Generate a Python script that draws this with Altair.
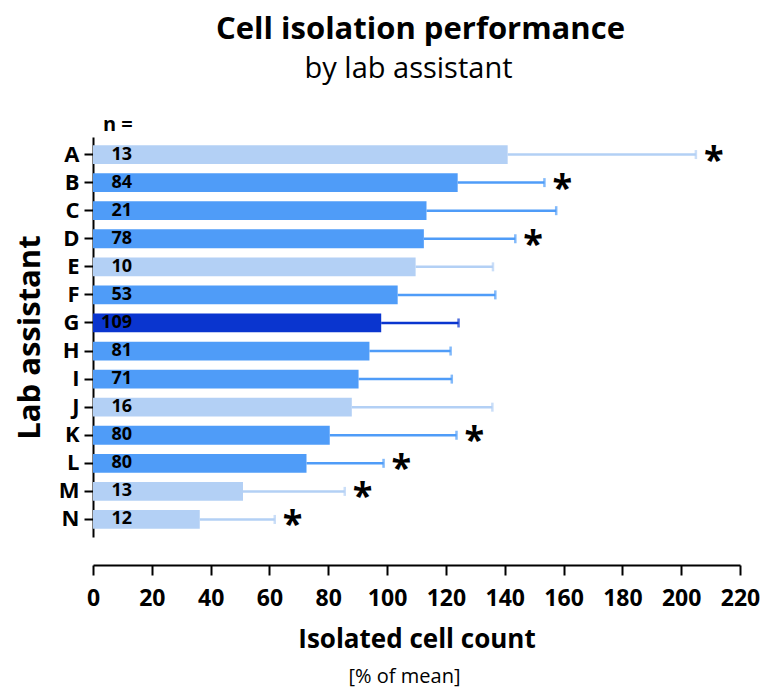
import altair as alt
import pandas as pd

assistants = list("ABCDEFGHIJKLMN")
means = [141, 124, 113.4, 112.5, 109.7, 103.6, 98, 94, 90.3, 88, 80.5, 72.6, 51, 36.3]
uppers = [205, 153.5, 157.5, 143.6, 136, 136.8, 124.3, 121.6, 122, 135.8, 123.6, 98.8, 85.6, 61.8]
counts = [13, 84, 21, 78, 10, 53, 109, 81, 71, 16, 80, 80, 13, 12]
groups = ["low n", "std", "std", "std", "low n", "std", "highlight", "std", "std",
          "low n", "std", "std", "low n", "low n"]
significant = [True, True, False, True, False, False, False, False, False, False,
               True, True, True, True]
x_ticks = list(range(0, 221, 20))

group_names = ["low n", "std", "highlight"]
group_colors = ["#b3d0f5", "#4f9cf8", "#0a35cf"]

df = pd.DataFrame({
    "assistant": assistants,
    "mean": means,
    "upper": uppers,
    "n": counts,
    "group": groups,
    "sig": significant,
})

FONT = "Open Sans"
W, H = 647, 400

y_enc = alt.Y(
    "assistant:N",
    sort=assistants,
    scale=alt.Scale(paddingInner=0.33, paddingOuter=0.29),
    axis=alt.Axis(
        title="Lab assistant", titleFontSize=31, titleFontWeight="bold",
        titleColor="black", titlePadding=12, titleFont=FONT,
        labelFontSize=22, labelFontWeight="bold", labelColor="black", labelFont=FONT,
        labelPadding=5, tickSize=9, tickWidth=2, tickColor="black",
        domainWidth=2, domainColor="black", grid=False,
    ),
)
y_plain = alt.Y("assistant:N", sort=assistants)
x_scale = alt.Scale(domain=[0, 220], nice=False)
color_enc = alt.Color("group:N", scale=alt.Scale(domain=group_names, range=group_colors), legend=None)

base = alt.Chart(df)

bars = base.mark_bar().encode(
    x=alt.X(
        "mean:Q", scale=x_scale,
        axis=alt.Axis(
            values=x_ticks, offset=28, grid=False,
            labelOverlap=False, labelFlush=False,
            title="Isolated cell count", titleFontSize=26, titleFontWeight="bold",
            titleColor="black", titlePadding=16, titleFont=FONT,
            labelFontSize=23, labelFontWeight="bold", labelColor="black", labelFont=FONT,
            labelPadding=12, tickSize=10, tickWidth=2, tickColor="black",
            domainWidth=2, domainColor="black",
        ),
    ),
    y=y_enc,
    color=color_enc,
)

err = base.mark_rule(strokeWidth=2.5).encode(x="mean:Q", x2="upper:Q", y=y_plain, color=color_enc)
caps = base.mark_tick(orient="vertical", size=9, thickness=2.5).encode(x="upper:Q", y=y_plain, color=color_enc)
stars = base.transform_filter("datum.sig").mark_text(
    text="*", align="left", baseline="middle", dx=8, dy=6,
    fontSize=36, fontWeight="bold", font=FONT, color="black"
).encode(x="upper:Q", y=y_plain)

nlabels = base.mark_text(
    align="right", baseline="middle", fontSize=18, fontWeight="bold", font=FONT, color="black"
).encode(x=alt.value(39), y=y_plain, text="n:Q")

nhead = alt.Chart(pd.DataFrame({"label": ["n ="]})).mark_text(
    align="left", baseline="middle", fontSize=20, fontWeight="bold", font=FONT, color="black"
).encode(x=alt.value(10), y=alt.value(-12), text="label:N")

subtitle = alt.Chart(pd.DataFrame({"label": ["by lab assistant"]})).mark_text(
    align="center", baseline="alphabetic", fontSize=29, font=FONT, color="black"
).encode(x=alt.value(W / 2 - 8), y=alt.value(78 - 137), text="label:N")

unit = alt.Chart(pd.DataFrame({"label": ["[% of mean]"]})).mark_text(
    align="center", baseline="middle", fontSize=20, font=FONT, color="black"
).encode(x=alt.value(W / 2 - 12), y=alt.value(H + 140), text="label:N")

chart = alt.layer(bars, err, caps, stars, nlabels, nhead, subtitle, unit).properties(
    width=W, height=H,
    padding={"left": 93, "top": 137, "right": 27, "bottom": 151},
    autosize="none",
    background="white",
    title=alt.TitleParams(
        text="Cell isolation performance",
        font=FONT, fontSize=31, fontWeight="bold", color="black",
        anchor="middle", frame="group", offset=9, dx=4,
    ),
).configure_view(strokeWidth=0)

chart.save("out.html", embed_options={"renderer": "svg", "actions": False})
